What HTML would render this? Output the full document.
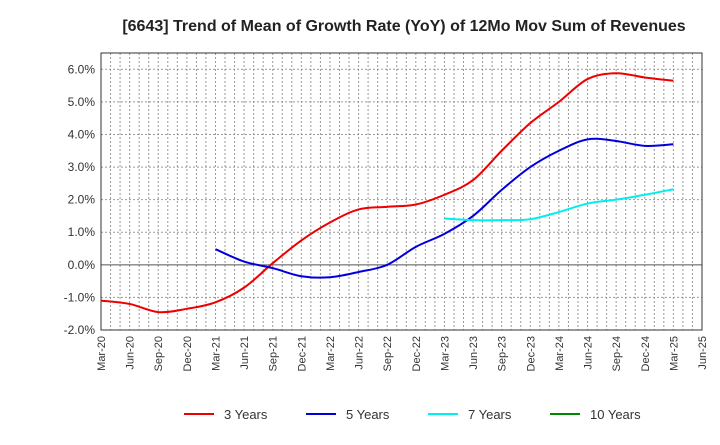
<!DOCTYPE html>
<html><head><meta charset="utf-8"><style>
body{margin:0;background:#fff;font-family:"Liberation Sans",sans-serif;}
</style></head><body>
<svg width="720" height="440" xmlns="http://www.w3.org/2000/svg" style="font-family:'Liberation Sans',sans-serif">
<text x="404" y="31" text-anchor="middle" font-size="16" font-weight="bold" fill="#222">[6643]  Trend of Mean of Growth Rate (YoY) of 12Mo Mov Sum of Revenues</text>
<g id="grid"></g>
<g id="axes"></g>
<g id="series"></g>
<g id="legend"></g>
</svg>
<script>
const xLabels=["Mar-20","Jun-20","Sep-20","Dec-20","Mar-21","Jun-21","Sep-21","Dec-21","Mar-22","Jun-22","Sep-22","Dec-22","Mar-23","Jun-23","Sep-23","Dec-23","Mar-24","Jun-24","Sep-24","Dec-24","Mar-25","Jun-25"];
const yTicks=[-2,-1,0,1,2,3,4,5,6];
const red=[-1.1,-1.2,-1.45,-1.35,-1.15,-0.7,0.05,0.75,1.3,1.7,1.78,1.85,2.15,2.6,3.5,4.35,5.0,5.7,5.88,5.75,5.65];
const blue=[null,null,null,null,0.48,0.1,-0.1,-0.35,-0.38,-0.22,0.0,0.55,0.95,1.5,2.3,3.0,3.5,3.85,3.8,3.65,3.7];
const cyan=[null,null,null,null,null,null,null,null,null,null,null,null,1.42,1.37,1.37,1.4,1.62,1.88,2.0,2.15,2.32];
const green=[];
const L=101,R=702,T=53,B=330;
const ymin=-2;
const y0=330, yPer=(330-69.3)/8;
function X(i){return L+i*(R-L)/21;}
function Y(v){return y0-(v-ymin)*yPer;}
const NS="http://www.w3.org/2000/svg";
function mk(t,a,p){const e=document.createElementNS(NS,t);for(const k in a)e.setAttribute(k,a[k]);p.appendChild(e);return e;}
const grid=document.getElementById('grid'),axes=document.getElementById('axes'),ser=document.getElementById('series'),leg=document.getElementById('legend');
for(let m=1;m<63;m++){const x=L+m*(R-L)/63;
 const g=mk('line',{x1:x,x2:x,y1:T,y2:B,stroke:'#999','stroke-dasharray':'2,2','stroke-width':1},grid);
 
 }
yTicks.forEach(v=>{const y=Y(v);
 const g=mk('line',{x1:L,x2:R,y1:y,y2:y,stroke:v===0?'#555':'#999','stroke-dasharray':v===0?'':'2,2','stroke-width':1},grid);
 
 
 const t=mk('text',{x:L-6,y:y+4,'text-anchor':'end','font-size':12,fill:'#333'},axes);t.textContent=v.toFixed(1)+'%';
 
 });
const f=mk('rect',{x:L,y:T,width:R-L,height:B-T,fill:'none',stroke:'#333','stroke-width':1},axes);


xLabels.forEach((s,i)=>{const x=X(i);
 const t=mk('text',{x:0,y:0,transform:`translate(${x+4},${B+6}) rotate(-90)`,'text-anchor':'end','font-size':11,fill:'#333'},axes);t.textContent=s;
 
 });
function path(arr){const pts=[];arr.forEach((v,i)=>{if(v!==null&&v!==undefined)pts.push([X(i),Y(v)]);});
 if(pts.length<2)return '';let d=`M${pts[0][0]},${pts[0][1]}`;
 for(let i=0;i<pts.length-1;i++){const p0=pts[i-1]||pts[i],p1=pts[i],p2=pts[i+1],p3=pts[i+2]||p2;
  d+=` C${p1[0]+(p2[0]-p0[0])/6},${p1[1]+(p2[1]-p0[1])/6} ${p2[0]-(p3[0]-p1[0])/6},${p2[1]-(p3[1]-p1[1])/6} ${p2[0]},${p2[1]}`;}
 return d;}
[[red,'#ee0000','line-3-years'],[blue,'#0000dd','line-5-years'],[cyan,'#00eeee','line-7-years'],[green,'#008800','line-10-years']].forEach(([a,c,n])=>{
 const d=path(a);if(!d)return;const p=mk('path',{d:d,fill:'none',stroke:c,'stroke-width':2},ser);
 
 });
[['3 Years','#ee0000',184],['5 Years','#0000dd',306],['7 Years','#00eeee',428],['10 Years','#008800',550]].forEach(([s,c,x])=>{
 const g=mk('g',{},leg);
 
 
 mk('line',{x1:x,x2:x+30,y1:414,y2:414,stroke:c,'stroke-width':2},g);
 const t=mk('text',{x:x+40,y:419,'font-size':13,fill:'#333'},g);t.textContent=s;});
</script>
</body></html>
